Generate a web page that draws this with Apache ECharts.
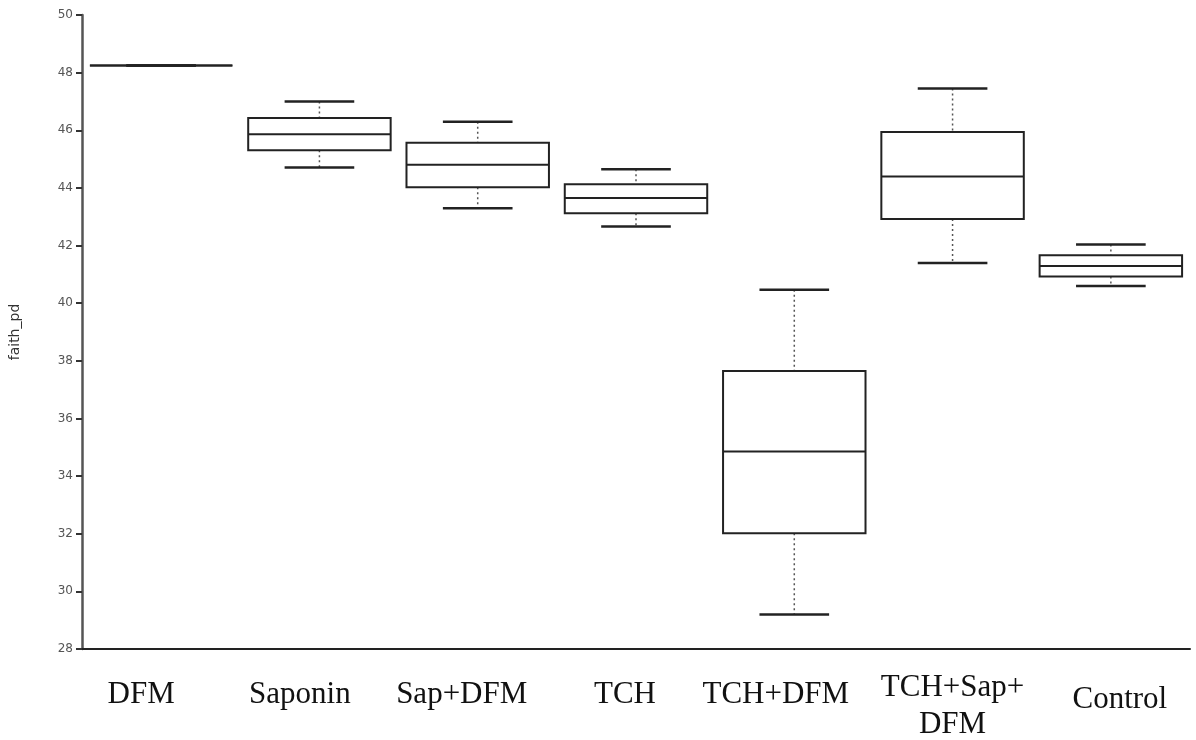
<!DOCTYPE html>
<html>
<head>
<meta charset="utf-8">
<script src="https://cdn.jsdelivr.net/npm/echarts@6/dist/echarts.min.js"></script>
<style>
html,body{margin:0;padding:0;background:#fff;}
#chart{width:1196px;height:740px;}
</style>
</head>
<body>
<div id="chart"></div>
<script>
const categories = ['DFM', 'Saponin', 'Sap+DFM', 'TCH', 'TCH+DFM', 'TCH+Sap+\nDFM', 'Control'];
const lows    = [48.25, 44.71, 43.29, 42.66, 29.20, 41.39, 40.60];
const q1s     = [48.25, 45.31, 44.02, 43.12, 32.02, 42.92, 40.93];
const medians = [48.25, 45.86, 44.80, 43.65, 34.85, 44.40, 41.29];
const q3s     = [48.25, 46.43, 45.57, 44.13, 37.65, 45.94, 41.66];
const highs   = [48.25, 47.00, 46.30, 44.65, 40.47, 47.45, 42.04];
const yTicks  = {min: 28, max: 50, interval: 2};
const yName = 'faith_pd';

const rows = categories.map((c, i) => [i, lows[i], q1s[i], medians[i], q3s[i], highs[i]]);

// per-label padding [top, right, bottom, left] to place labels like the reference
const labelPads = [[18, 40, 0, 0], [18, 39, 0, 0], [18, 32, 0, 0], [18, 22, 0, 0], [18, 37, 0, 0], [0, 0, 0, 0], [28, 0, 0, 18]];

function renderItem(params, api) {
  const x = api.value(0);
  const pLow = api.coord([x, api.value(1)]);
  const pQ1 = api.coord([x, api.value(2)]);
  const pMed = api.coord([x, api.value(3)]);
  const pQ3 = api.coord([x, api.value(4)]);
  const pHigh = api.coord([x, api.value(5)]);
  const band = api.size([1, 0])[0];
  const bw = band * 0.9;
  const cw = band * 0.44;
  const cx = pMed[0];
  const boxStyle = {stroke: '#222', lineWidth: 2, fill: 'none'};
  const dashStyle = {stroke: '#555', lineWidth: 1.5, lineDash: [2, 3]};
  const capStyle = {stroke: '#222', lineWidth: 2.5};
  return {
    type: 'group',
    children: [
      {type: 'line', shape: {x1: cx, y1: pHigh[1], x2: cx, y2: pQ3[1]}, style: dashStyle},
      {type: 'line', shape: {x1: cx, y1: pQ1[1], x2: cx, y2: pLow[1]}, style: dashStyle},
      {type: 'line', shape: {x1: cx - cw / 2, y1: pHigh[1], x2: cx + cw / 2, y2: pHigh[1]}, style: capStyle},
      {type: 'line', shape: {x1: cx - cw / 2, y1: pLow[1], x2: cx + cw / 2, y2: pLow[1]}, style: capStyle},
      {type: 'rect', shape: {x: cx - bw / 2, y: pQ3[1], width: bw, height: pQ1[1] - pQ3[1]}, style: boxStyle},
      {type: 'line', shape: {x1: cx - bw / 2, y1: pMed[1], x2: cx + bw / 2, y2: pMed[1]}, style: {stroke: '#222', lineWidth: 2}}
    ]
  };
}

const rich = {};
labelPads.forEach((p, i) => {
  rich['r' + i] = {fontFamily: 'Liberation Serif', fontSize: 31, color: '#111', padding: p, lineHeight: i === 5 ? 37 : 34};
});

const chart = echarts.init(document.getElementById('chart'), null, {renderer: 'canvas'});
chart.setOption({
  animation: false,
  backgroundColor: '#fff',
  grid: {left: 82, right: 6, top: 15, bottom: 88},
  xAxis: {
    type: 'category',
    data: categories,
    boundaryGap: true,
    axisLine: {lineStyle: {color: '#222', width: 2}},
    axisTick: {alignWithLabel: true, length: 10, lineStyle: {color: '#888', width: 2}},
    axisLabel: {
      interval: 0,
      margin: 20,
      formatter: function (v, idx) {
        return v.split('\n').map(s => '{r' + idx + '|' + s + '}').join('\n');
      },
      rich: rich
    }
  },
  yAxis: {
    type: 'value',
    min: yTicks.min,
    max: yTicks.max,
    interval: yTicks.interval,
    name: yName,
    nameLocation: 'middle',
    nameGap: 60,
    nameTextStyle: {fontFamily: 'DejaVu Sans', fontSize: 14, color: '#333'},
    axisLine: {show: true, lineStyle: {color: '#555', width: 2.5}},
    axisTick: {show: true, length: 6, lineStyle: {color: '#333', width: 2}},
    axisLabel: {fontFamily: 'DejaVu Sans', fontSize: 12, color: '#555', margin: 9},
    splitLine: {show: false}
  },
  series: [{
    type: 'custom',
    renderItem: renderItem,
    encode: {x: 0, y: [1, 2, 3, 4, 5]},
    data: rows
  }]
});
</script>
</body>
</html>
